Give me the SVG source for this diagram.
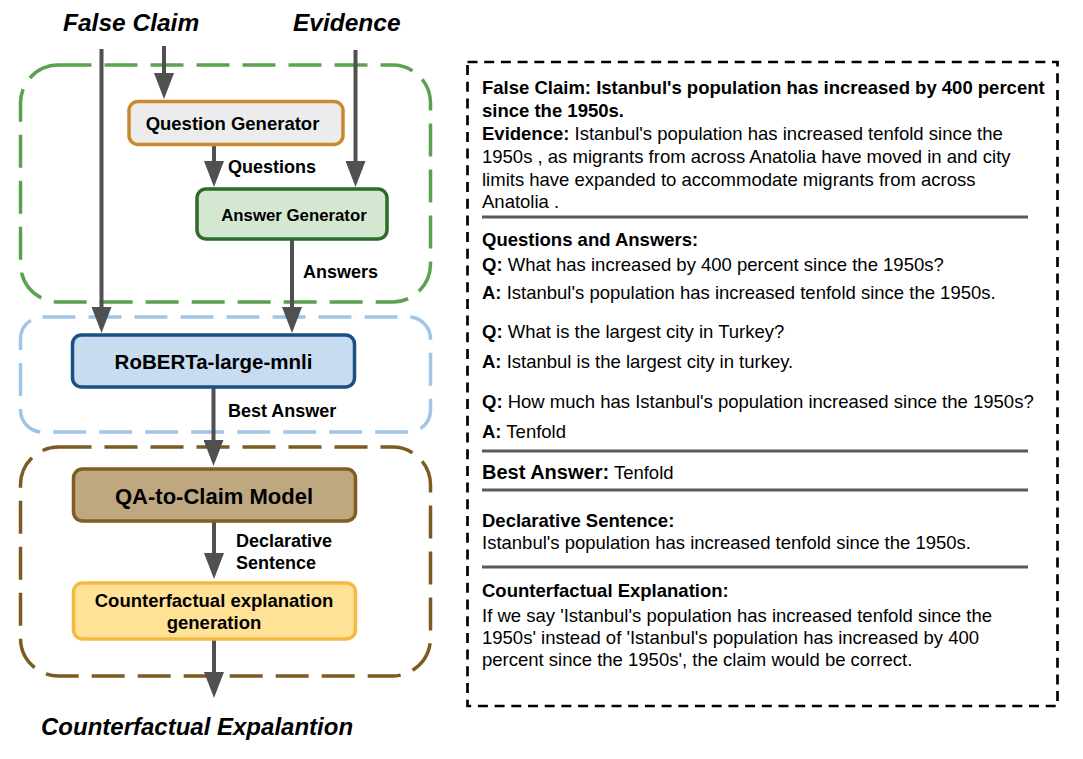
<svg xmlns="http://www.w3.org/2000/svg" width="1083" height="759" viewBox="0 0 1083 759">
<style>
  .lbl { font-family: "Liberation Sans", Arial, sans-serif; font-weight: bold; fill: #000; }
  .big { font-family: "Liberation Sans", Arial, sans-serif; font-weight: bold; font-style: italic; fill: #000; }
  .grp { fill: none; stroke-width: 3.5; stroke-dasharray: 33 13; }
  .node { stroke-width: 3.5; }
  .conn line { stroke: #505050; stroke-width: 4; }
  .rt { font-family: "Liberation Sans", Arial, sans-serif; font-size: 18.5px; fill: #000; }
  .b { font-weight: bold; }
  .sep { stroke: #595959; stroke-width: 2.8; }
</style>
<defs>
  <marker id="ah" markerUnits="userSpaceOnUse" markerWidth="26" markerHeight="20" viewBox="0 0 26 20" refX="6" refY="10" orient="auto">
    <path d="M0,0 L26,10 L0,20 z" fill="#505050"/>
  </marker>
</defs>
<rect width="1083" height="759" fill="#ffffff"/>

<!-- group boxes -->
<g id="group-qa">
  <rect class="grp" x="20.5" y="65" width="410" height="237" rx="38" ry="38" stroke="#5ba150"/>
</g>
<g id="group-nli">
  <rect class="grp" x="20.5" y="317" width="410" height="115" rx="22" ry="22" stroke="#9fc5e8"/>
</g>
<g id="group-claim">
  <rect class="grp" x="20.5" y="447" width="410" height="229" rx="38" ry="38" stroke="#7b5b20"/>
</g>

<!-- top / bottom labels -->
<g id="label-false-claim"><text class="big" x="63" y="31" font-size="24.5">False Claim</text></g>
<g id="label-evidence"><text class="big" x="293" y="31" font-size="24.5">Evidence</text></g>
<g id="label-output"><text class="big" x="41" y="735" font-size="24">Counterfactual Expalantion</text></g>

<!-- connectors -->
<g id="connectors" class="conn">
  <line x1="101.5" y1="49" x2="101.5" y2="313" marker-end="url(#ah)"/>
  <line x1="164" y1="46" x2="164" y2="79" marker-end="url(#ah)"/>
  <line x1="214" y1="145" x2="214" y2="167" marker-end="url(#ah)"/>
  <line x1="355.5" y1="50" x2="355.5" y2="167" marker-end="url(#ah)"/>
  <line x1="292" y1="240" x2="292" y2="313" marker-end="url(#ah)"/>
  <line x1="213.5" y1="388" x2="213.5" y2="446" marker-end="url(#ah)"/>
  <line x1="214" y1="522" x2="214" y2="559" marker-end="url(#ah)"/>
  <line x1="214" y1="640" x2="214" y2="678" marker-end="url(#ah)"/>
  <text class="lbl" x="228" y="173" font-size="18">Questions</text>
  <text class="lbl" x="303" y="278" font-size="18">Answers</text>
  <text class="lbl" x="228" y="417" font-size="18">Best Answer</text>
  <text class="lbl" x="236" y="547" font-size="18">Declarative</text>
  <text class="lbl" x="236" y="568.5" font-size="18">Sentence</text>
</g>

<!-- nodes -->
<g id="question-generator">
  <rect class="node" x="129" y="101.5" width="214" height="43" rx="9" fill="#ececec" stroke="#c98a2c"/>
  <text class="lbl" x="232.5" y="130" font-size="18.5" text-anchor="middle">Question Generator</text>
</g>
<g id="answer-generator">
  <rect class="node" x="197" y="189" width="190" height="50" rx="9" fill="#d4e8d1" stroke="#2e6b29"/>
  <text class="lbl" x="294" y="221" font-size="16.8" text-anchor="middle">Answer Generator</text>
</g>
<g id="roberta">
  <rect class="node" x="72.5" y="335" width="282" height="52" rx="9" fill="#c7dcf0" stroke="#1c4f82"/>
  <text class="lbl" x="213.5" y="369" font-size="20.5" text-anchor="middle">RoBERTa-large-mnli</text>
</g>
<g id="qa-to-claim">
  <rect class="node" x="73.5" y="469" width="282" height="52" rx="9" fill="#bfa880" stroke="#7f5e23"/>
  <text class="lbl" x="214" y="504" font-size="22" text-anchor="middle">QA-to-Claim Model</text>
</g>
<g id="counterfactual-generation">
  <rect class="node" x="73.5" y="583" width="282" height="56" rx="9" fill="#ffe295" stroke="#f3b941"/>
  <text class="lbl" x="214" y="607" font-size="18.5" text-anchor="middle">Counterfactual explanation</text>
  <text class="lbl" x="214" y="628.5" font-size="18.5" text-anchor="middle">generation</text>
</g>

<!-- example panel -->
<g id="example-panel">
  <rect x="467.5" y="62" width="590" height="644" fill="none" stroke="#000" stroke-width="2.7" stroke-dasharray="10 6.7"/>
  <text class="rt b" x="482" y="94">False Claim: Istanbul's population has increased by 400 percent</text>
  <text class="rt b" x="482" y="117">since the 1950s.</text>
  <text class="rt" x="482" y="140"><tspan class="b">Evidence:</tspan> Istanbul's population has increased tenfold since the</text>
  <text class="rt" x="482" y="163">1950s , as migrants from across Anatolia have moved in and city</text>
  <text class="rt" x="482" y="186">limits have expanded to accommodate migrants from across</text>
  <text class="rt" x="482" y="208">Anatolia .</text>
  <line class="sep" x1="482" y1="217" x2="1028" y2="217"/>
  <text class="rt b" x="482" y="246">Questions and Answers:</text>
  <text class="rt" x="482" y="271"><tspan class="b">Q:</tspan> What has increased by 400 percent since the 1950s?</text>
  <text class="rt" x="482" y="299"><tspan class="b">A:</tspan> Istanbul's population has increased tenfold since the 1950s.</text>
  <text class="rt" x="482" y="338"><tspan class="b">Q:</tspan> What is the largest city in Turkey?</text>
  <text class="rt" x="482" y="368"><tspan class="b">A:</tspan> Istanbul is the largest city in turkey.</text>
  <text class="rt" x="482" y="408"><tspan class="b">Q:</tspan> How much has Istanbul's population increased since the 1950s?</text>
  <text class="rt" x="482" y="438"><tspan class="b">A:</tspan> Tenfold</text>
  <line class="sep" x1="482" y1="451" x2="1028" y2="451"/>
  <text class="rt" x="482" y="479"><tspan class="b" font-size="20">Best Answer:</tspan> Tenfold</text>
  <line class="sep" x1="482" y1="490" x2="1028" y2="490"/>
  <text class="rt b" x="482" y="527" font-size="20">Declarative Sentence:</text>
  <text class="rt" x="482" y="549">Istanbul's population has increased tenfold since the 1950s.</text>
  <line class="sep" x1="482" y1="567" x2="1028" y2="567"/>
  <text class="rt b" x="482" y="597">Counterfactual Explanation:</text>
  <text class="rt" x="482" y="622">If we say 'Istanbul's population has increased tenfold since the</text>
  <text class="rt" x="482" y="644">1950s' instead of 'Istanbul's population has increased by 400</text>
  <text class="rt" x="482" y="666">percent since the 1950s', the claim would be correct.</text>
</g>
</svg>
